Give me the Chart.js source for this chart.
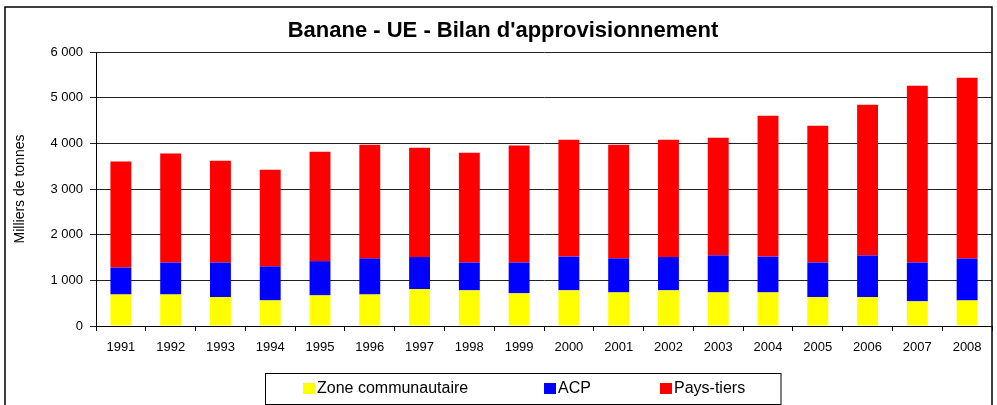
<!DOCTYPE html>
<html lang="fr">
<head>
<meta charset="utf-8">
<title>Banane - UE - Bilan d'approvisionnement</title>
<script src="https://cdn.jsdelivr.net/npm/chart.js@4/dist/chart.umd.min.js"></script>
<style>
  html, body { margin: 0; padding: 0; background: #fff; }
  #chart { display: block; }
</style>
</head>
<body>
<canvas id="chart" width="997" height="405"></canvas>
<script>
'use strict';

const years = ['1991','1992','1993','1994','1995','1996','1997','1998','1999',
               '2000','2001','2002','2003','2004','2005','2006','2007','2008'];
// Milliers de tonnes
const zoneCommunautaire = [690, 690, 635, 560, 670, 690, 810, 780, 715, 780, 735, 780, 735, 735, 635, 635, 540, 560];
const acp               = [590, 700, 755, 745, 750, 790, 700, 610, 675, 740, 745, 730, 810, 785, 755, 910, 850, 920];
const paysTiers         = [2320, 2385, 2230, 2115, 2395, 2490, 2395, 2405, 2560, 2560, 2490, 2570, 2575, 3085, 2995, 3300, 3870, 3955];
const yTicks = [0, 1000, 2000, 3000, 4000, 5000, 6000];

const FONT = '"Liberation Sans", Arial, sans-serif';
const fmt = v => String(v).replace(/\B(?=(\d{3})+(?!\d))/g, ' ');

/* frame, title and boxed legend, drawn like the Excel original */
const excelDecor = {
  id: 'excelDecor',
  afterDraw(chart) {
    const ctx = chart.ctx;
    ctx.save();

    ctx.fillStyle = '#000';
    ctx.font = 'bold 22px ' + FONT;
    ctx.textAlign = 'center';
    ctx.textBaseline = 'middle';
    ctx.fillText("Banane - UE - Bilan d'approvisionnement", 503, 31);

    // legend box
    ctx.strokeStyle = '#000';
    ctx.lineWidth = 1;
    ctx.strokeRect(265.5, 373.5, 515.5, 31);
    const slots = [303, 544, 660];
    ctx.font = '16px ' + FONT;
    ctx.textAlign = 'left';
    ctx.textBaseline = 'alphabetic';
    chart.data.datasets.forEach((ds, i) => {
      ctx.fillStyle = ds.backgroundColor;
      ctx.fillRect(slots[i], 383, 12, 11);
      ctx.fillStyle = '#000';
      ctx.fillText(ds.label, slots[i] + 14, 393);
    });

    // outer frame
    ctx.lineWidth = 1.5;
    ctx.beginPath();
    ctx.moveTo(5, 405);
    ctx.lineTo(5, 7);
    ctx.lineTo(992, 7);
    ctx.lineTo(992, 405);
    ctx.stroke();
    ctx.restore();
  }
};

new Chart(document.getElementById('chart'), {
  type: 'bar',
  data: {
    labels: years,
    datasets: [
      { label: 'Zone communautaire', data: zoneCommunautaire, backgroundColor: '#FFFF00' },
      { label: 'ACP',                data: acp,               backgroundColor: '#0000FF' },
      { label: 'Pays-tiers',         data: paysTiers,         backgroundColor: '#FF0000' },
    ],
  },
  options: {
    responsive: false,
    devicePixelRatio: 1,
    animation: false,
    layout: { padding: { top: 52, right: 5, left: 0, bottom: 0 } },
    datasets: { bar: { categoryPercentage: 1, barPercentage: 0.42 } },
    plugins: { legend: { display: false }, title: { display: false }, tooltip: { enabled: false } },
    scales: {
      x: {
        stacked: true,
        afterFit: s => { s.height = 79; },
        grid: { offset: true, drawOnChartArea: false, drawTicks: true, tickLength: 5, color: '#000' },
        border: { color: '#000', width: 1 },
        ticks: { color: '#000', font: { family: FONT, size: 13 }, padding: 9, maxRotation: 0, autoSkip: false },
      },
      y: {
        stacked: true,
        min: yTicks[0],
        max: yTicks[yTicks.length - 1],
        afterFit: s => { s.width = 96; },
        afterBuildTicks: s => { s.ticks = yTicks.map(v => ({ value: v })); },
        grid: { color: '#222', lineWidth: 1, tickLength: 6 },
        border: { color: '#000', width: 1 },
        ticks: { color: '#000', font: { family: FONT, size: 13 }, padding: 7, callback: v => fmt(v) },
        title: {
          display: true,
          text: 'Milliers de tonnes',
          color: '#000',
          font: { family: FONT, size: 14 },
          padding: { top: 12, bottom: 0 },
        },
      },
    },
  },
  plugins: [excelDecor],
});
</script>
</body>
</html>
